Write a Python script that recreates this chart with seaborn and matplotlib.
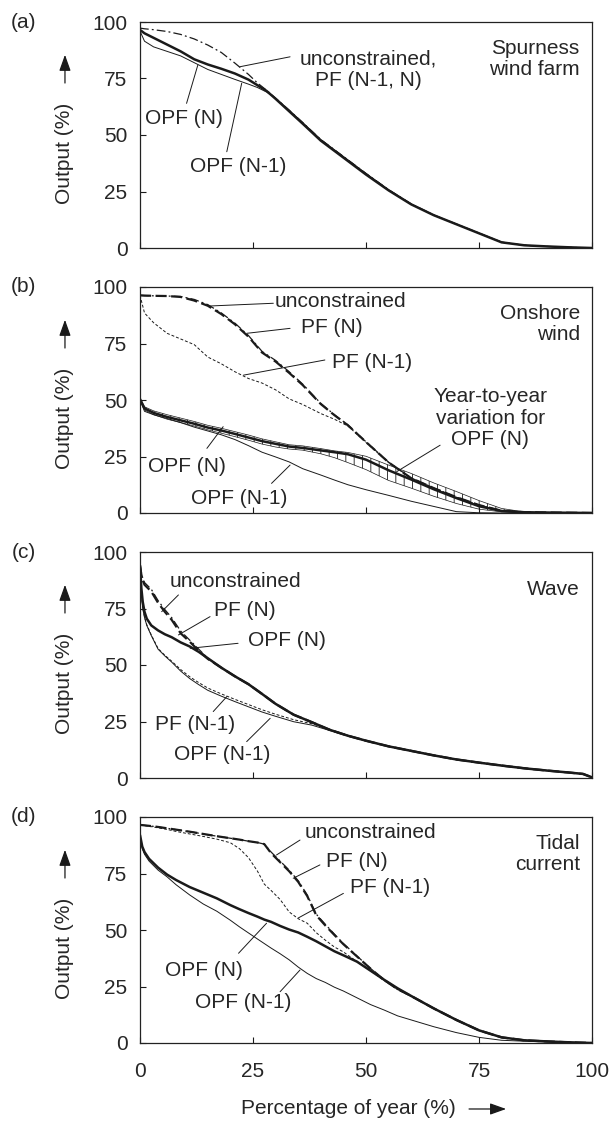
"""Duration curves of output for four generation types (a)-(d)."""

import matplotlib
matplotlib.use("Agg")
import matplotlib.pyplot as plt
import pandas as pd
import seaborn as sns

# ---------------- data ----------------
# (a) Spurness wind farm
X_A = [0, 1, 3, 6, 9, 12, 15, 18, 21, 24, 26, 28, 30, 33, 36, 40, 45, 50,
       55, 60, 65, 70, 75, 80, 85, 90, 95, 100]
A_UNCON = [97.3, 97, 96.6, 95.8, 94.5, 92.5, 89.8, 86.5, 81.8, 76.8, 73, 69.8,
           66.3, 61, 55.5, 48, 40.5, 33, 25.8, 19.5, 14.6, 10.6, 6.6, 2.6, 1.2, 0.7, 0.3, 0]
A_OPF_N = [96.5, 95, 93, 90, 87, 83.5, 81.2, 79.3, 77.2, 74.5, 72, 69.5,
           66, 60.5, 55, 47.5, 40, 32.5, 25.5, 19.3, 14.5, 10.5, 6.5, 2.5, 1.2, 0.7, 0.3, 0]
A_OPF_N1 = [96, 91.5, 89, 87, 85, 82, 79, 76.8, 74.6, 72.5, 71, 69,
            66.3, 61, 55.5, 48, 40.5, 33, 25.8, 19.5, 14.6, 10.6, 6.6, 2.6, 1.2, 0.7, 0.3, 0]

# (b) Onshore wind
X_B = [0, 1, 3, 6, 9, 12, 15, 18, 21, 24, 27, 30, 33, 36, 40, 43, 46, 50,
       55, 60, 65, 70, 75, 80, 85, 90, 95, 100]
B_UNCON = [96.3, 96.2, 96.1, 96, 95.8, 94.5, 92.2, 88.5, 84, 78.5, 71.5, 67.5,
           62.5, 57, 48.5, 43.5, 39, 31.5, 22.5, 15.5, 11, 7, 3.5, 1, 0.4, 0.2, 0.1, 0]
B_PF_N = [96.3, 96.2, 96.1, 96, 95.6, 94, 91.7, 88, 83.5, 78, 71, 67,
          62, 56.6, 48.2, 43.3, 38.8, 31.4, 22.4, 15.4, 11, 7, 3.5, 1, 0.4, 0.2, 0.1, 0]
B_PF_N1 = [96.3, 88.5, 84.2, 79.5, 77, 74.5, 69, 66, 62.5, 59.5, 57.5, 54.5,
           50.5, 48, 44, 41.5, 38.5, 31.2, 22.3, 15.4, 11, 7, 3.5, 1, 0.4, 0.2, 0.1, 0]
B_OPF_N = [50.4, 46.3, 44.3, 42.5, 41, 39.5, 37.8, 36.5, 35, 33.4, 31.8, 30.6,
           29.4, 28.8, 27.7, 26.9, 26, 23.6, 18.9, 14.8, 10.5, 6.6, 3, 0.9, 0.3, 0.2, 0.1, 0]
B_OPF_N_HI = [50.8, 47, 45.2, 43.5, 42, 40.5, 38.8, 37.5, 36, 34.5, 32.8, 31.5,
              30.2, 29.7, 28.5, 27.5, 26.8, 25.1, 21.2, 17.5, 13.3, 9.5, 5.5, 2, 0.5, 0.2, 0.1, 0]
B_OPF_N_LO = [50, 45.6, 43.5, 41.5, 40, 38.5, 36.8, 35.3, 33.8, 32.2, 30.5, 29.2,
              28.3, 27.8, 26.2, 24.5, 22.3, 19.2, 14.4, 11, 7.4, 4.2, 1.7, 0.5, 0.2, 0.1, 0, 0]
B_OPF_N1 = [50, 45, 43.5, 41.8, 40, 38, 36.3, 34.6, 32.5, 29.8, 26.9, 24.8,
            22.6, 19.6, 16.8, 14.6, 12.5, 10.3, 7.8, 5.2, 2.9, 0.6, 0.1, 0, 0, 0, 0, 0]

# (c) Wave
X_C = [0, 0.3, 0.6, 1, 1.5, 2.5, 4, 5.5, 7, 9, 11, 13, 15, 18, 21, 24, 27, 30,
       34, 38, 42, 46, 50, 55, 60, 65, 70, 75, 80, 85, 90, 95, 98, 100]
C_UNCON = [94.5, 91, 88.5, 86.5, 85.5, 83.5, 78.5, 74.5, 71, 65, 61, 57, 53,
           48.8, 45, 41.5, 37.2, 32.8, 28, 24.7, 21.3, 18.7, 16.5, 14, 12, 10,
           8.2, 6.8, 5.5, 4.3, 3.3, 2.4, 1.8, 0.3]
C_PF_N = [94, 90, 87.5, 85.5, 84.5, 82.5, 77.5, 73.5, 70, 64, 60.3, 56.3, 52.7,
          48.8, 45, 41.5, 37.2, 32.8, 28, 24.7, 21.3, 18.7, 16.5, 14, 12, 10,
          8.2, 6.8, 5.5, 4.3, 3.3, 2.4, 1.8, 0.3]
C_OPF_N = [94, 84, 78, 73.5, 70.5, 67.5, 65.3, 63.6, 62.3, 60, 58.2, 55.8, 53,
           48.8, 45, 41.5, 37.2, 32.8, 28, 24.7, 21.3, 18.7, 16.5, 14, 12, 10,
           8.2, 6.8, 5.5, 4.3, 3.3, 2.4, 1.8, 0.3]
C_PF_N1 = [94, 82.3, 75.3, 71.3, 67.8, 63.3, 57.3, 54.3, 51.7, 48, 44.8, 42.2, 39.8,
           37.2, 34.8, 32.5, 30.2, 28.2, 25.8, 24, 21.5, 18.9, 16.5, 14, 12, 10,
           8.2, 6.8, 5.5, 4.3, 3.3, 2.4, 1.8, 0.3]
C_OPF_N1 = [94, 82, 75, 71, 67.5, 63, 57, 54, 51.3, 47.3, 44, 41.3, 38.8,
            36.2, 33.8, 31.5, 29.2, 27.3, 24.9, 23.4, 21, 18.6, 16.4, 14, 12, 10,
            8.2, 6.8, 5.5, 4.3, 3.3, 2.4, 1.8, 0.3]

# (d) Tidal current
X_D = [0, 0.5, 1, 2, 4, 6, 8, 11, 14, 17, 20, 22, 24, 26, 27.5, 29, 31, 33, 35,
       37, 39, 41, 43, 45, 48, 51, 54, 57, 60, 65, 70, 75, 80, 85, 90, 95, 100]
D_UNCON = [96.5, 96.4, 96.3, 96.1, 95.6, 95, 94.4, 93.5, 92.5, 91.5, 90.6, 90, 89.3,
           88.7, 88, 84.5, 80.5, 76.5, 71.8, 65.5, 57, 52.5, 48.2, 44, 38.5, 33,
           27.9, 23.8, 20.8, 15.3, 10.2, 5.6, 2.5, 1.2, 0.7, 0.3, 0]
D_PF_N = [96.5, 96.4, 96.3, 96.1, 95.6, 95, 94.4, 93.5, 92.5, 91.5, 90.6, 90, 89.3,
          88.7, 88, 84, 80, 76, 71.3, 65, 56.5, 52, 47.8, 43.7, 38.3, 32.9,
          27.9, 23.8, 20.8, 15.3, 10.2, 5.6, 2.5, 1.2, 0.7, 0.3, 0]
D_PF_N1 = [96.5, 96.3, 96.2, 95.9, 95.2, 94.5, 93.6, 92.5, 91.4, 90.2, 88.6, 86, 82,
           76, 70.3, 67.5, 63.5, 58, 55, 53, 48.8, 45.5, 42.5, 40.3, 36, 32,
           27.6, 23.6, 20.6, 15.2, 10.1, 5.5, 2.4, 1.2, 0.7, 0.3, 0]
D_OPF_N = [92, 86.9, 84.5, 81.5, 77.6, 74.5, 72.1, 69, 66.5, 64, 61, 59.2, 57.5,
           55.9, 54.6, 53.6, 51.8, 50.2, 48.9, 47, 45, 42.8, 40.6, 38.8, 36, 32,
           28, 24.2, 20.8, 15.3, 10.2, 5.6, 2.5, 1.2, 0.7, 0.3, 0]
D_OPF_N1 = [92, 86, 83.5, 80.5, 76.5, 73.5, 70, 65.5, 61.5, 58.3, 54.3, 51.4, 48.7,
            46, 44, 42, 39.5, 36.8, 33.6, 30.8, 28.5, 26.8, 24.7, 23, 20, 17,
            14.6, 12, 10.2, 7.2, 4.6, 2.5, 1.2, 0.8, 0.5, 0.2, 0]

# ---------------- line styles ----------------
STYLES = {
    "uncon": dict(lw=0.9, ls=(0, (7, 2.5, 1.5, 2.5))),
    "pf_n": dict(lw=1.6, ls=(0, (5, 2))),
    "pf_n1": dict(lw=0.7, ls=(0, (3, 2))),
    "opf_n": dict(lw=1.8, ls="-"),
    "opf_n1": dict(lw=0.7, ls="-"),
}

PANELS = [
    dict(tag="(a)", x=X_A, series=[("opf_n1", A_OPF_N1), ("uncon", A_UNCON), ("opf_n", A_OPF_N)],
         title="Spurness\nwind farm",
         notes=[("unconstrained,\nPF (N-1, N)", (50.5, 79), (33.2, 84.6), (22.1, 80.2), "center"),
                ("OPF (N)", (9.7, 57.5), (10.3, 64), (12.8, 81), "center"),
                ("OPF (N-1)", (21.8, 36), (19.2, 42.6), (22.5, 72.9), "center")]),
    dict(tag="(b)", x=X_B, series=[("pf_n1", B_PF_N1), ("opf_n1", B_OPF_N1), ("uncon", B_UNCON),
                                   ("pf_n", B_PF_N), ("opf_n", B_OPF_N)],
         band=(B_OPF_N_LO, B_OPF_N_HI),
         title="Onshore\nwind",
         notes=[("unconstrained", (29.7, 93.5), (29.5, 92.8), (15.5, 91.6), "left"),
                ("PF (N)", (42.4, 82.3), (33.2, 81.7), (23.6, 79.5), "center"),
                ("PF (N-1)", (51.4, 66.8), (40.9, 67.7), (22.9, 61), "center"),
                ("Year-to-year\nvariation for\nOPF (N)", (77.5, 42), (66.4, 30), (56.8, 18.3), "center"),
                ("OPF (N)", (10.3, 20.5), (14.8, 28.6), (18.4, 38.2), "center"),
                ("OPF (N-1)", (21.9, 6.6), (29.1, 13.1), (33.2, 21.2), "center")]),
    dict(tag="(c)", x=X_C, series=[("pf_n1", C_PF_N1), ("opf_n1", C_OPF_N1), ("uncon", C_UNCON),
                                   ("pf_n", C_PF_N), ("opf_n", C_OPF_N)],
         title="Wave",
         notes=[("unconstrained", (21.2, 86.9), (8.5, 81), (4.8, 73.6), "center"),
                ("PF (N)", (23.2, 74.3), (15.5, 71.4), (8.5, 63.3), "center"),
                ("OPF (N)", (32.5, 61), (21.7, 59.6), (11.1, 57.4), "center"),
                ("PF (N-1)", (12.2, 23.5), (16.2, 29.4), (19.2, 36), "center"),
                ("OPF (N-1)", (18.1, 10.2), (23.6, 16.1), (28.8, 26.4), "center")]),
    dict(tag="(d)", x=X_D, series=[("pf_n1", D_PF_N1), ("opf_n1", D_OPF_N1), ("uncon", D_UNCON),
                                   ("pf_n", D_PF_N), ("opf_n", D_OPF_N)],
         title="Tidal\ncurrent",
         notes=[("unconstrained", (51, 93), (35.4, 89.8), (30.2, 83.2), "center"),
                ("PF (N)", (47.9, 80.2), (39.8, 78.8), (33.9, 72.9), "center"),
                ("PF (N-1)", (55.3, 68.6), (45, 66.2), (35, 55.3), "center"),
                ("OPF (N)", (14.2, 32.3), (21.8, 39.7), (28, 53), "center"),
                ("OPF (N-1)", (22.9, 17.7), (31, 22.7), (35.4, 32.3), "center")]),
]

TICKS = [0, 25, 50, 75, 100]
FS = 15

sns.set_theme(style="ticks")
plt.rcParams["font.family"] = ["Liberation Sans", "DejaVu Sans"]
plt.rcParams["hatch.linewidth"] = 0.6

W, H = 613, 1126
fig = plt.figure(figsize=(W / 100, H / 100), dpi=100)

# axes boxes in pixels: left, top, width, height
AX_LEFT, AX_W, AX_H = 140, 452, 226
AX_TOPS = [22, 287, 552, 817]

for i, (p, top) in enumerate(zip(PANELS, AX_TOPS)):
    ax = fig.add_axes([AX_LEFT / W, 1 - (top + AX_H) / H, AX_W / W, AX_H / H])
    df = pd.DataFrame({"x": p["x"]})

    if "band" in p:
        lo, hi = p["band"]
        ax.fill_between(df["x"], lo, hi, facecolor="none", edgecolor="k",
                        hatch="||", linewidth=0.5)

    for key, vals in p["series"]:
        st = STYLES[key]
        sns.lineplot(x=df["x"], y=vals, ax=ax, color="k", linewidth=st["lw"],
                     linestyle=st["ls"], errorbar=None, sort=False)

    ax.set_xlim(0, 100)
    ax.set_ylim(0, 100)
    ax.set_xticks(TICKS)
    ax.set_yticks(TICKS)
    ax.set_xlabel("")
    ax.set_ylabel("")
    ax.tick_params(direction="in", length=4, width=0.8, color="k", labelsize=FS)
    ax.tick_params(axis="y", pad=9)
    if i < 3:
        ax.tick_params(axis="x", labelbottom=False)
    else:
        ax.tick_params(axis="x", pad=14)
    for sp in ax.spines.values():
        sp.set_visible(True)
        sp.set_linewidth(0.9)
        sp.set_color("#222222")

    # panel letter
    ax.text(-0.257, 1.0, p["tag"], transform=ax.transAxes, fontsize=FS,
            ha="center", va="center")
    # panel title, top right
    ax.text(97.3, 83.5, p["title"], fontsize=FS, ha="right", va="center",
            multialignment="right", linespacing=1.15)

    # labels with leader lines
    for text, txy, a, b, ha in p["notes"]:
        ax.text(txy[0], txy[1], text, fontsize=FS, ha=ha, va="center",
                multialignment="center", linespacing=1.15)
        ax.annotate("", xy=b, xytext=a,
                    arrowprops=dict(arrowstyle="-", lw=0.7, color="k",
                                    shrinkA=0, shrinkB=0))

    # y label with upward arrow
    ax.text(-0.166, 0.42, "Output (%)", transform=ax.transAxes, rotation=90,
            fontsize=FS, ha="center", va="center")
    ax.annotate("", xy=(-0.166, 0.855), xytext=(-0.166, 0.73),
                xycoords="axes fraction", textcoords="axes fraction",
                annotation_clip=False,
                arrowprops=dict(arrowstyle="-|>,head_length=0.7,head_width=0.25",
                                lw=0.9, color="k", mutation_scale=14,
                                shrinkA=0, shrinkB=0))

    if i == 3:
        ax.text(0.46, -0.292, "Percentage of year (%)", transform=ax.transAxes,
                fontsize=FS, ha="center", va="center")
        ax.annotate("", xy=(0.81, -0.292), xytext=(0.728, -0.292),
                    xycoords="axes fraction", textcoords="axes fraction",
                    annotation_clip=False,
                    arrowprops=dict(arrowstyle="-|>,head_length=0.7,head_width=0.25",
                                    lw=0.9, color="k", mutation_scale=14,
                                    shrinkA=0, shrinkB=0))

fig.savefig("out.png", dpi=100)
